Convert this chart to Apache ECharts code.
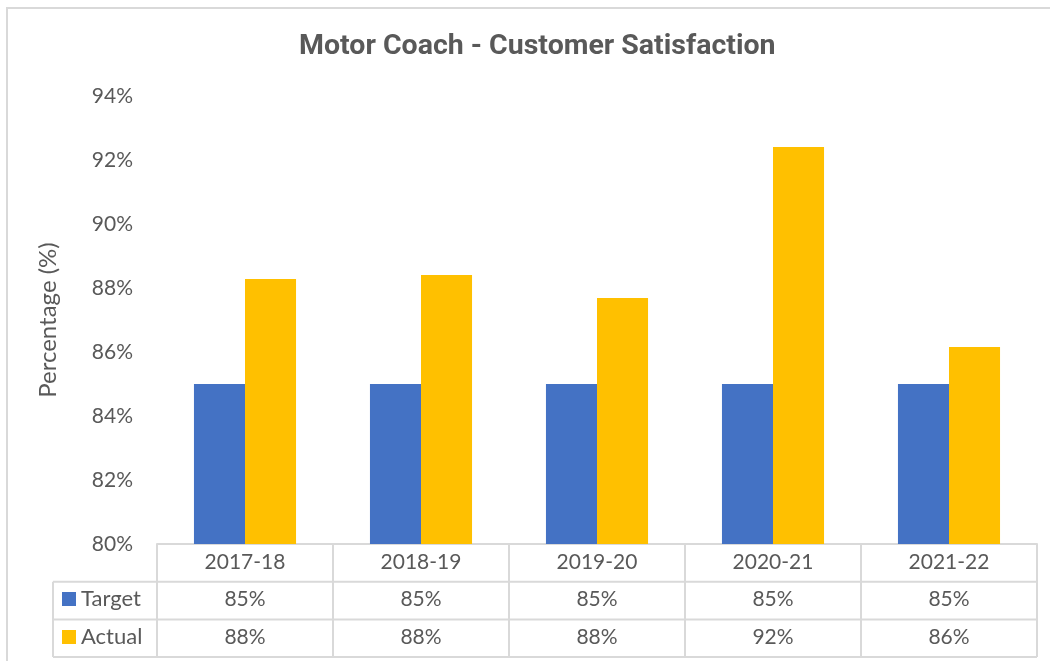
<!DOCTYPE html>
<html>
<head>
<meta charset="utf-8">
<script src="https://cdn.jsdelivr.net/npm/echarts@6/dist/echarts.min.js"></script>
<style>
  html, body { margin: 0; padding: 0; background: #fff; }
  #main { width: 1050px; height: 661px; }
</style>
</head>
<body>
<div id="main"></div>
<script>
  // data
  var categories = ['2017-18', '2018-19', '2019-20', '2020-21', '2021-22'];
  var targetValues = [85, 85, 85, 85, 85];
  var actualValues = [88.28, 88.41, 87.69, 92.41, 86.16];
  var yTicks = [80, 82, 84, 86, 88, 90, 92, 94];

  var fmt = function (v) { return Math.round(v) + '%'; };
  var textColor = '#595959';
  var lineColor = '#d9d9d9';
  var font = 'Lato';

  var chart = echarts.init(document.getElementById('main'));

  var option = {
    animation: false,
    title: {
      text: 'Motor Coach - Customer Satisfaction',
      left: 299,
      top: 32,
      padding: 0,
      textStyle: { fontFamily: 'Roboto', fontSize: 28.5, fontWeight: 'bold', color: textColor }
    },
    legend: {
      orient: 'vertical',
      left: 62,
      top: 588,
      padding: 0,
      itemWidth: 14,
      itemHeight: 14,
      itemGap: 16,
      icon: 'rect',
      data: ['Target', 'Actual'],
      textStyle: { fontFamily: font, fontSize: 22, color: textColor }
    },
    grid: { left: 157, right: 13, top: 96, bottom: 117 },
    xAxis: [
      {
        type: 'category',
        data: categories,
        axisLine: { lineStyle: { color: lineColor, width: 2 } },
        axisTick: { show: false },
        axisLabel: { margin: 8, fontFamily: font, fontSize: 21, color: textColor }
      },
      {
        type: 'category',
        data: targetValues.map(fmt),
        position: 'bottom',
        offset: 38,
        axisLine: { show: false },
        axisTick: { show: false },
        axisLabel: { margin: 7, fontFamily: font, fontSize: 21, color: textColor }
      },
      {
        type: 'category',
        data: actualValues.map(fmt),
        position: 'bottom',
        offset: 76,
        axisLine: { show: false },
        axisTick: { show: false },
        axisLabel: { margin: 7, fontFamily: font, fontSize: 21, color: textColor }
      }
    ],
    yAxis: {
      type: 'value',
      min: yTicks[0],
      max: yTicks[yTicks.length - 1],
      interval: 2,
      name: 'Percentage (%)',
      nameLocation: 'middle',
      nameRotate: 90,
      nameGap: 97,
      nameTextStyle: { fontFamily: font, fontSize: 24, color: textColor },
      axisLine: { show: false },
      axisTick: { show: false },
      splitLine: { show: false },
      axisLabel: { margin: 24, fontFamily: font, fontSize: 21, color: textColor, formatter: '{value}%' }
    },
    series: [
      {
        name: 'Target',
        type: 'bar',
        data: targetValues,
        barGap: '0%',
        barCategoryGap: '42%',
        itemStyle: { color: '#4472C4' }
      },
      {
        name: 'Actual',
        type: 'bar',
        data: actualValues,
        itemStyle: { color: '#FFC000' }
      }
    ]
  };

  chart.setOption(option);

  // data table grid lines, placed from the axis scales
  function drawTable() {
    var c0 = chart.convertToPixel({ xAxisIndex: 0 }, categories[0]);
    var c1 = chart.convertToPixel({ xAxisIndex: 0 }, categories[1]);
    var band = c1 - c0;
    var x0 = c0 - band / 2;
    var xEnd = x0 + band * categories.length;
    var yTop = chart.convertToPixel({ yAxisIndex: 0 }, yTicks[0]);
    var rowH = 37.7;
    var legendLeft = 53;
    var els = [];
    var style = { stroke: lineColor, lineWidth: 2 };
    for (var r = 1; r <= 3; r++) {
      var y = yTop + rowH * r;
      els.push({ type: 'line', shape: { x1: legendLeft, y1: y, x2: xEnd, y2: y }, style: style, silent: true });
    }
    for (var i = 0; i <= categories.length; i++) {
      var x = x0 + band * i;
      els.push({ type: 'line', shape: { x1: x, y1: yTop, x2: x, y2: yTop + rowH * 3 }, style: style, silent: true });
    }
    els.push({ type: 'line', shape: { x1: legendLeft, y1: yTop + rowH, x2: legendLeft, y2: yTop + rowH * 3 }, style: style, silent: true });
    // chart border
    els.push({ type: 'rect', shape: { x: 7, y: 8, width: 1100, height: 700 }, style: { fill: null, stroke: lineColor, lineWidth: 2 }, silent: true, z: -1 });
    chart.setOption({ graphic: els });
  }
  drawTable();

  window.addEventListener('resize', function () { chart.resize(); drawTable(); });
</script>
</body>
</html>
